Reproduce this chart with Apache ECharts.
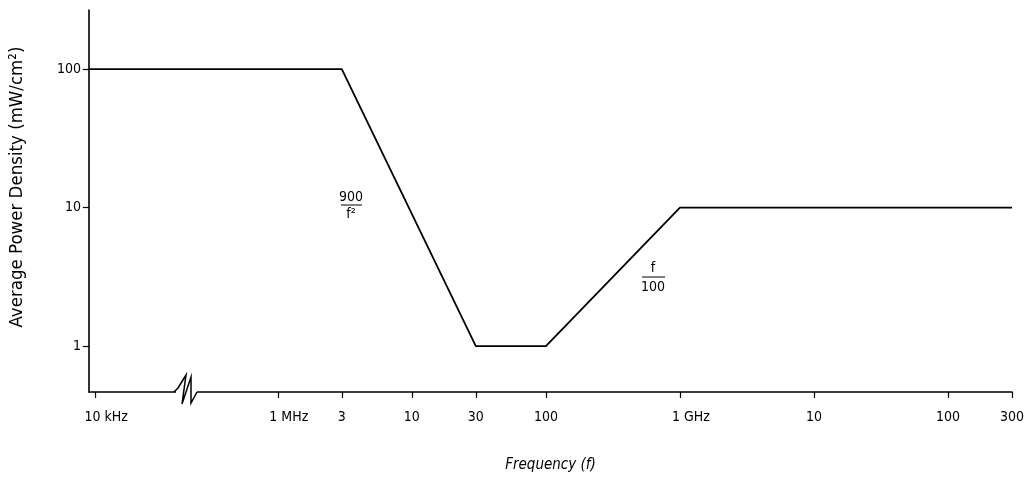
<!DOCTYPE html>
<html>
<head>
<meta charset="utf-8">
<script src="https://cdn.jsdelivr.net/npm/echarts@6/dist/echarts.min.js"></script>
<style>
  html, body { margin: 0; padding: 0; background: #fff; }
  #chart { width: 1027px; height: 479px; }
</style>
</head>
<body>
<div id="chart"></div>
<script>
// Power density limit vs frequency (frequency in MHz, density in mW/cm²)
const freqMHz = [0.009, 3, 30, 100, 1000, 300000];
const powerDensity = [100, 100, 1, 1, 10, 10];

// Frequency axis ticks and their printed labels
const xTickValues = [0.01, 1, 3, 10, 30, 100, 1000, 10000, 100000, 300000];
const xTickLabels = ['10 kHz', '1 MHz', '3', '10', '30', '100', '1 GHz', '10', '100', '300'];

// Density axis ticks
const yTickValues = [1, 10, 100];
const yTickLabels = ['1', '10', '100'];

// Skipped stretch of the frequency axis (MHz)
const breakStart = 0.045;
const breakEnd = 0.225;

const FONT = '"Liberation Sans Narrow", "DejaVu Sans Condensed", "Liberation Sans", sans-serif';
const INK = '#000';

const chart = echarts.init(document.getElementById('chart'), null, { renderer: 'canvas' });

function xLabel(v) {
  const i = xTickValues.findIndex(t => Math.abs(t - v) / t < 1e-6);
  if (i < 0) return '';
  const s = xTickLabels[i];
  return s.indexOf('Hz') >= 0 ? '{u|' + s + '}' : s;
}
function yLabel(v) {
  const i = yTickValues.findIndex(t => Math.abs(t - v) / t < 1e-6);
  return i < 0 ? '' : yTickLabels[i];
}

chart.setOption({
  animation: false,
  backgroundColor: '#fff',
  grid: { left: 89, right: 14, top: 10, bottom: 87, containLabel: false },
  xAxis: {
    type: 'log',
    min: 0.009,
    max: 300000,
    breaks: [{ start: breakStart, end: breakEnd, gap: '0.9%' }],
    breakArea: { show: false },
    name: 'Frequency (f)',
    nameLocation: 'middle',
    nameGap: 66,
    nameTextStyle: { fontFamily: FONT, fontSize: 15, fontStyle: 'italic', color: INK },
    axisLine: { show: true, lineStyle: { color: INK, width: 1.6 } },
    axisTick: { show: true, customValues: xTickValues, length: 6, lineStyle: { color: INK, width: 1.2 } },
    axisLabel: {
      show: true,
      customValues: xTickValues,
      formatter: xLabel,
      margin: 18,
      fontFamily: FONT,
      fontSize: 14,
      color: INK,
      rich: { u: { fontFamily: FONT, fontSize: 14, color: INK, padding: [0, 0, 0, 22] } }
    },
    splitLine: { show: false },
    minorTick: { show: false }
  },
  yAxis: {
    type: 'log',
    min: 0.466,
    max: 267,
    axisLine: { show: true, lineStyle: { color: INK, width: 1.6 } },
    axisTick: { show: true, customValues: yTickValues, length: 6, lineStyle: { color: INK, width: 1.2 } },
    axisLabel: {
      show: true,
      customValues: yTickValues,
      formatter: yLabel,
      margin: 8,
      fontFamily: FONT,
      fontSize: 14,
      color: INK
    },
    splitLine: { show: false },
    minorTick: { show: false }
  },
  series: [{
    type: 'line',
    data: freqMHz.map((f, i) => [f, powerDensity[i]]),
    showSymbol: false,
    symbol: 'none',
    lineStyle: { color: INK, width: 1.8 },
    silent: true
  }],
  graphic: [
    // vertical axis title
    {
      type: 'text',
      x: 17, y: 187,
      rotation: Math.PI / 2,
      style: {
        text: 'Average Power Density (mW/cm²)',
        fontFamily: FONT, fontSize: 18.5, fill: INK,
        align: 'center', verticalAlign: 'middle'
      }
    },
    // break mark on the frequency axis
    { type: 'rect', shape: { x: 176, y: 388, width: 21, height: 8 }, style: { fill: '#fff' }, z: 50 },
    {
      type: 'polyline',
      shape: { points: [[174, 392], [178, 388], [186, 375], [182, 404], [191, 377], [191, 403], [197, 392]] },
      style: { stroke: INK, lineWidth: 1.5, fill: null },
      z: 51
    },
    // 900 / f² annotation
    { type: 'text', x: 351, y: 197, style: { text: '900', fontFamily: FONT, fontSize: 14, fill: INK, align: 'center', verticalAlign: 'middle' } },
    { type: 'line', shape: { x1: 341, y1: 205, x2: 362, y2: 205 }, style: { stroke: INK, lineWidth: 1 } },
    { type: 'text', x: 351, y: 214, style: { text: 'f²', fontFamily: FONT, fontSize: 14, fill: INK, align: 'center', verticalAlign: 'middle' } },
    // f / 100 annotation
    { type: 'text', x: 653, y: 268, style: { text: 'f', fontFamily: FONT, fontSize: 14, fill: INK, align: 'center', verticalAlign: 'middle' } },
    { type: 'line', shape: { x1: 642, y1: 277, x2: 665, y2: 277 }, style: { stroke: INK, lineWidth: 1 } },
    { type: 'text', x: 653, y: 287, style: { text: '100', fontFamily: FONT, fontSize: 14, fill: INK, align: 'center', verticalAlign: 'middle' } }
  ]
});
</script>
</body>
</html>
